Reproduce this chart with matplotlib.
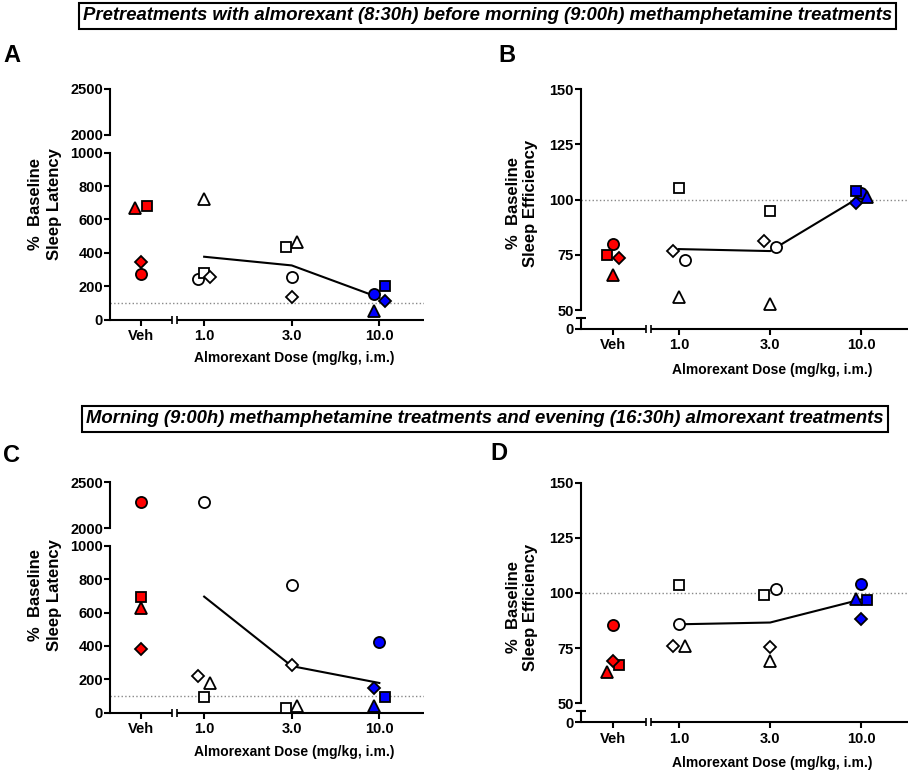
import numpy as np
import matplotlib
matplotlib.use('Agg')
from matplotlib import pyplot as plt

plt.rcParams['font.family'] = ['Liberation Sans', 'DejaVu Sans']
plt.rcParams['font.weight'] = 'bold'

# dose groups on the x axis
doses = ['Veh', '1.0', '3.0', '10.0']

# A: % baseline sleep latency, almorexant 8:30h before morning meth
a_circle = [275, 243, 257, 154]
a_square = [683, 281, 437, 200]
a_triangle = [670, 725, 463, 54]
a_diamond = [345, 257, 136, 114]
a_mean = [377, 325, 132]

# B: % baseline sleep efficiency, same design
b_circle = [80.1, 72.7, 78.4, 102.9]
b_square = [74.9, 105.1, 94.9, 103.9]
b_triangle = [66.0, 56.0, 52.6, 101.4]
b_diamond = [73.7, 76.7, 81.1, 98.3]
b_mean = [77.6, 76.7, 101.6]

# C: % baseline sleep latency, morning meth + evening almorexant
c_circle = [2287, 2287, 762, 423]
c_square = [691, 92, 30, 92]
c_triangle = [625, 176, 42, 42]
c_diamond = [379, 222, 283, 148]
c_mean = [695, 279, 178]

# D: % baseline sleep efficiency, morning meth + evening almorexant
d_circle = [85.3, 86.1, 102.0, 104.1]
d_square = [67.5, 103.5, 98.9, 97.0]
d_triangle = [64.4, 76.1, 69.3, 97.3]
d_diamond = [69.3, 76.0, 75.4, 88.1]
d_mean = [85.8, 86.6, 97.1]

# layout: category positions, broken x axis, point jitter
XPOS = np.array([0.28, 1.0, 2.0, 3.0])
XLIM = (-0.075, 3.51)
BREAK = (0.635, 0.695)
JIT = 0.065
fills = ['#ff0000', 'white', 'white', '#0000ff']
shapes = [('circle', 'o', 8.0), ('triangle', '^', 8.0), ('square', 's', 7.5), ('diamond', 'D', 6.3)]
jitter = {
    'A': {'circle': [0, -1, 0, -1], 'square': [1, 0, -1, 1], 'triangle': [-1, 0, 1, -1], 'diamond': [0, 1, 0, 1]},
    'B': {'circle': [0, 1, 1, 0], 'square': [-1, 0, 0, -1], 'triangle': [0, 0, 0, 1], 'diamond': [1, -1, -1, -1]},
    'C': {'circle': [0, 0, 0, 0], 'square': [0, 0, -1, 1], 'triangle': [0, 1, 1, -1], 'diamond': [0, -1, 0, -1]},
    'D': {'circle': [0, 0, 1, 0], 'square': [1, 0, -1, 1], 'triangle': [-1, 1, 0, -1], 'diamond': [0, -1, 0, 0]},
}
LW = 1.5
W, H = 908, 771


def box(x0, y_bot, x1, y_top):
    # pixel box -> figure fraction rect
    return [x0 / W, 1 - y_bot / H, (x1 - x0) / W, (y_bot - y_top) / H]


def style_axis(ax, ylim, yticks):
    for s in ['top', 'right', 'bottom']:
        ax.spines[s].set_visible(False)
    ax.spines['left'].set_linewidth(LW)
    ax.set_xlim(XLIM)
    ax.set_ylim(ylim)
    ax.set_yticks(yticks)
    ax.tick_params(axis='y', direction='out', length=4, width=LW, labelsize=10.5, pad=1)
    ax.set_xticks([])
    ax.patch.set_visible(False)


def draw_xaxis(ax):
    tr = ax.get_xaxis_transform()
    for x0, x1 in [(XLIM[0], BREAK[0]), (BREAK[1], XLIM[1])]:
        ax.plot([x0, x1], [0, 0], color='black', lw=LW, transform=tr, clip_on=False, solid_capstyle='butt')
    ax.plot(BREAK, [0, 0], ls='none', marker='|', ms=6, mew=1.2, color='black', transform=tr, clip_on=False)
    ax.set_xticks(XPOS)
    ax.set_xticklabels(doses)
    ax.tick_params(axis='x', direction='out', length=4, width=LW, labelsize=10.5, pad=3)


def draw_points(ax, panel, series, lo, hi):
    for name, marker, ms in shapes:
        vals = series[name]
        xs = XPOS + JIT * np.array(jitter[panel][name])
        for i in range(len(doses)):
            if lo <= vals[i] <= hi:
                ax.plot(xs[i], vals[i], marker=marker, ms=ms, mfc=fills[i], mec='black',
                        mew=1.3, ls='none', clip_on=False, zorder=3)


def latency_panel(panel, series, mean, y_zero):
    # y_zero: pixel row of the 0 line; upper part 2000-2500 above the break
    ax_hi = fig.add_axes(box(110, y_zero - 184.7, 424, y_zero - 230.7))
    ax = fig.add_axes(box(110, y_zero, 424, y_zero - 167))
    style_axis(ax_hi, (2000, 2500), [2000, 2500])
    style_axis(ax, (0, 1000), [0, 200, 400, 600, 800, 1000])
    draw_xaxis(ax)
    ax.axhline(100, color='#888888', ls=':', lw=1, zorder=1)
    ax.plot(XPOS[1:], mean, color='black', lw=1.5, zorder=2)
    draw_points(ax, panel, series, 0, 1000)
    draw_points(ax_hi, panel, series, 2000, 2500)
    return ax


def efficiency_panel(panel, series, mean, y_zero):
    ax = fig.add_axes(box(580.7, y_zero - 18.7, 908, y_zero - 239.4))
    ax_lo = fig.add_axes(box(580.7, y_zero, 908, y_zero - 11))
    style_axis(ax, (50, 150), [50, 75, 100, 125, 150])
    style_axis(ax_lo, (0, 1), [0])
    ax_lo.plot([XLIM[0]], [1], marker='_', ms=7, mew=LW, color='black', clip_on=False)
    draw_xaxis(ax_lo)
    ax.axhline(100, color='#888888', ls=':', lw=1, zorder=1)
    ax.plot(XPOS[1:], mean, color='black', lw=1.5, zorder=2)
    draw_points(ax, panel, series, 0, 200)
    return ax


fig = plt.figure(figsize=(W / 100, H / 100), dpi=100)

latency_panel('A', {'circle': a_circle, 'square': a_square, 'triangle': a_triangle, 'diamond': a_diamond},
              a_mean, 319.7)
efficiency_panel('B', {'circle': b_circle, 'square': b_square, 'triangle': b_triangle, 'diamond': b_diamond},
                 b_mean, 328.7)
latency_panel('C', {'circle': c_circle, 'square': c_square, 'triangle': c_triangle, 'diamond': c_diamond},
              c_mean, 712.7)
efficiency_panel('D', {'circle': d_circle, 'square': d_square, 'triangle': d_triangle, 'diamond': d_diamond},
                 d_mean, 722.0)


# axis titles and panel letters
def ftext(x, y, s, **kw):
    fig.text(x / W, 1 - y / H, s, ha='center', va='center', **kw)

for (x, y, s) in [(45, 204, '%  Baseline\nSleep Latency'), (522, 203, '%  Baseline\nSleep Efficiency'),
                  (45, 595, '%  Baseline\nSleep Latency'), (522, 607, '%  Baseline\nSleep Efficiency')]:
    ftext(x, y, s, rotation=90, fontsize=12, multialignment='center', linespacing=1.25)

for (x, y) in [(294, 358), (772, 370), (294, 752), (772, 763)]:
    ftext(x, y, 'Almorexant Dose (mg/kg, i.m.)', fontsize=10)

for (x, y, s) in [(12, 55, 'A'), (507, 55, 'B'), (12, 455, 'C'), (499, 454, 'D')]:
    ftext(x, y, s, fontsize=17)

title_font = ['Liberation Sans Narrow', 'Liberation Sans']
ftext(487.5, 16, 'Pretreatments with almorexant (8:30h) before morning (9:00h) methamphetamine treatments',
      fontsize=13.3, style='italic', family=title_font,
      bbox=dict(boxstyle='square,pad=0.22', fc='white', ec='black', lw=1.5))
ftext(485, 419, 'Morning (9:00h) methamphetamine treatments and evening (16:30h) almorexant treatments',
      fontsize=13.3, style='italic', family=title_font,
      bbox=dict(boxstyle='square,pad=0.22', fc='white', ec='black', lw=1.5))

fig.savefig('out.png', dpi=100)
